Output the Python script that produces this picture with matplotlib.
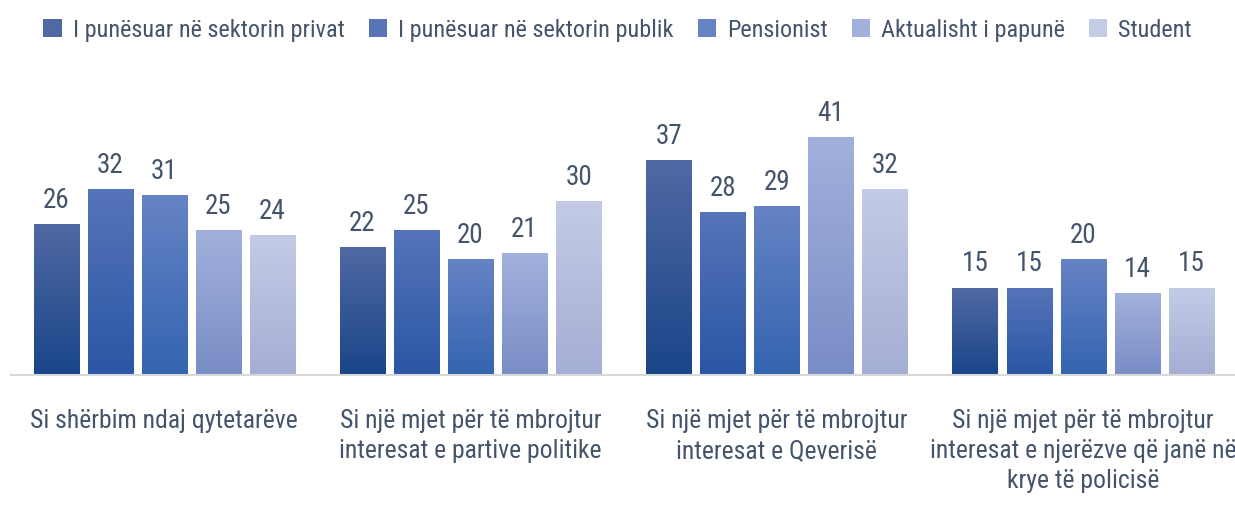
import numpy as np
import matplotlib.pyplot as plt
import matplotlib.patches as mpatches
from matplotlib.colors import LinearSegmentedColormap

plt.rcParams['font.family'] = ['Roboto Condensed', 'DejaVu Sans']

# data
categories = ['Si shërbim ndaj qytetarëve',
              'Si një mjet për të mbrojtur\ninteresat e partive politike',
              'Si një mjet për të mbrojtur\ninteresat e Qeverisë',
              'Si një mjet për të mbrojtur\ninteresat e njerëzve që janë në\nkrye të policisë']
series = ['I punësuar në sektorin privat', 'I punësuar në sektorin publik',
          'Pensionist', 'Aktualisht i papunë', 'Student']
privat = [26, 22, 37, 15]
publik = [32, 25, 28, 15]
pensionist = [31, 20, 29, 20]
papune = [25, 21, 41, 14]
student = [24, 30, 32, 15]
values = [privat, publik, pensionist, papune, student]

# (top colour, bottom colour) for each series' gradient
grads = [('#5069a3', '#1a4589'),
         ('#5674b8', '#2a56a5'),
         ('#6683c4', '#3464b0'),
         ('#a2b1dc', '#798dc6'),
         ('#c4cbe6', '#a5aed4')]

text_col = '#44546a'

fig = plt.figure(figsize=(12.35, 5.06), dpi=100)
ax = fig.add_axes([0.009, 0.257, 0.992, 0.624])

x = np.arange(len(categories))
w = 0.147
step = 0.1765
grad = np.linspace(1, 0, 256).reshape(-1, 1)

for i, (vals, (top, bot)) in enumerate(zip(values, grads)):
    pos = x + (i - 2) * step
    bars = ax.bar(pos, vals, w, color='none', edgecolor='none')
    cmap = LinearSegmentedColormap.from_list('g%d' % i, [bot, top])
    for b, v in zip(bars, vals):
        bx = b.get_x()
        ax.imshow(grad, extent=[bx, bx + w, 0, v], aspect='auto',
                  cmap=cmap, vmin=0, vmax=1, origin='upper', zorder=2)
        ax.text(bx + w / 2, v + 2.0, str(v), ha='center', va='bottom',
                fontsize=19.5, color=text_col)

ax.set_xlim(-0.5, len(categories) - 0.5)
ax.set_ylim(0, 54.5)
ax.set_xticks(x)
ax.set_xticklabels(categories, fontsize=18.5, color=text_col, linespacing=1.32)
ax.tick_params(axis='x', length=0, pad=24)
ax.set_yticks([])
for s in ['top', 'left', 'right']:
    ax.spines[s].set_visible(False)
ax.spines['bottom'].set_color('#d9d9d9')
ax.spines['bottom'].set_linewidth(1.5)

handles = [mpatches.Patch(facecolor=g[0], edgecolor='none', label=s)
           for s, g in zip(series, grads)]
leg = fig.legend(handles=handles, loc='upper center', bbox_to_anchor=(0.5, 1.005),
                 ncol=5, frameon=False, fontsize=17.5, handlelength=0.75,
                 handleheight=0.75, handletextpad=0.45, columnspacing=1.0)
for t in leg.get_texts():
    t.set_color(text_col)

fig.savefig('out.png', dpi=100)
